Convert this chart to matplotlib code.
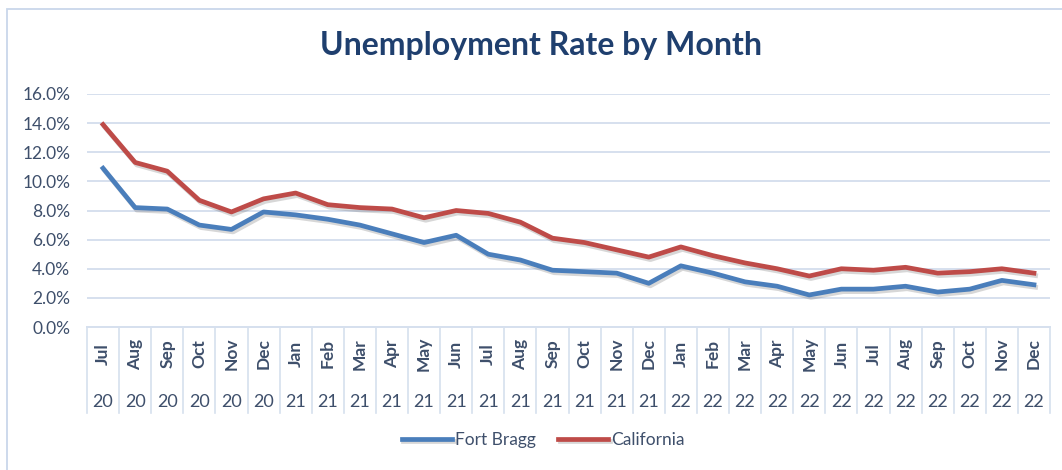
import matplotlib
matplotlib.use("Agg")
import matplotlib.pyplot as plt
import matplotlib.patheffects as pe
from matplotlib.patches import Rectangle
from matplotlib.ticker import FuncFormatter

months = ["Jul", "Aug", "Sep", "Oct", "Nov", "Dec",
          "Jan", "Feb", "Mar", "Apr", "May", "Jun", "Jul", "Aug", "Sep", "Oct", "Nov", "Dec",
          "Jan", "Feb", "Mar", "Apr", "May", "Jun", "Jul", "Aug", "Sep", "Oct", "Nov", "Dec"]
years = ["20"] * 6 + ["21"] * 12 + ["22"] * 12

fort_bragg = [10.9, 8.2, 8.1, 7.0, 6.7, 7.9, 7.7, 7.4, 7.0, 6.4, 5.8, 6.3, 5.0, 4.6, 3.9,
              3.8, 3.7, 3.0, 4.2, 3.7, 3.1, 2.8, 2.2, 2.6, 2.6, 2.8, 2.4, 2.6, 3.2, 2.9]
california = [13.9, 11.3, 10.7, 8.7, 7.9, 8.8, 9.2, 8.4, 8.2, 8.1, 7.5, 8.0, 7.8, 7.2, 6.1,
              5.8, 5.3, 4.8, 5.5, 4.9, 4.4, 4.0, 3.5, 4.0, 3.9, 4.1, 3.7, 3.8, 4.0, 3.7]

W, H = 1062, 470
plt.rcParams['font.family'] = ['Lato', 'DejaVu Sans']
fig = plt.figure(figsize=(W / 100, H / 100), dpi=100)

text_col = "#3E4F6B"
grid_col = "#D6E0EE"
blue = "#4A7EBB"
red = "#BE4B48"

ax = fig.add_axes([87 / W, 1 - 327 / H, (1050 - 87) / W, (327 - 94) / H])
x = list(range(len(months)))
shadow = [pe.SimpleLineShadow(offset=(1.2, -1.8), alpha=0.25, shadow_color="#606060"), pe.Normal()]
ax.plot(x, fort_bragg, color=blue, lw=3.4, label="Fort Bragg", path_effects=shadow, solid_joinstyle='round', zorder=3)
ax.plot(x, california, color=red, lw=3.4, label="California", path_effects=shadow, solid_joinstyle='round', zorder=3)

ax.set_xlim(-0.5, len(months) - 0.5)
ax.set_ylim(0, 16)
ax.set_yticks(range(0, 17, 2))
ax.yaxis.set_major_formatter(FuncFormatter(lambda v, p: f"{v:.1f}%"))
ax.tick_params(axis='y', length=0, pad=12, labelsize=12.5, labelcolor=text_col)
ax.set_xticks([])
ax.grid(axis='y', color=grid_col, lw=1.4)
ax.set_axisbelow(True)
for s in ax.spines.values():
    s.set_visible(False)

trans = ax.get_xaxis_transform()
ax_h = 327 - 94
for i, (m, yv) in enumerate(zip(months, years)):
    ax.annotate(m, xy=(i, 0), xycoords=trans, xytext=(0, -27), textcoords='offset pixels',
                rotation=90, ha='center', va='center', fontsize=12.5, fontweight='bold',
                color=text_col, annotation_clip=False)
    ax.annotate(yv, xy=(i, 0), xycoords=trans, xytext=(0, -75), textcoords='offset pixels',
                ha='center', va='center', fontsize=13, color=text_col, annotation_clip=False)
for i in range(len(months) + 1):
    ax.plot([i - 0.5, i - 0.5], [0, -86 / ax_h], transform=trans, color=grid_col, lw=1.2, clip_on=False)
ax.plot([-0.5, len(months) - 0.5], [0, 0], transform=trans, color=grid_col, lw=1.4, clip_on=False)

fig.text(541 / W, 1 - 46 / H, "Unemployment Rate by Month", ha='center', va='center',
         fontsize=23, fontweight='bold', color="#1F3F6E")

leg = fig.legend(loc='center', bbox_to_anchor=(543 / W, 1 - 440 / H), ncol=2, frameon=False,
                 fontsize=12.5, handlelength=2.9, handletextpad=0.15, columnspacing=1.3)
for t in leg.get_texts():
    t.set_color(text_col)

fig.patches.append(Rectangle((7 / W, -0.1), 1.2, 1 - 9 / H + 0.1, transform=fig.transFigure,
                             fill=False, edgecolor="#C9D7EA", lw=1.3))

fig.savefig("out.png", dpi=100)
